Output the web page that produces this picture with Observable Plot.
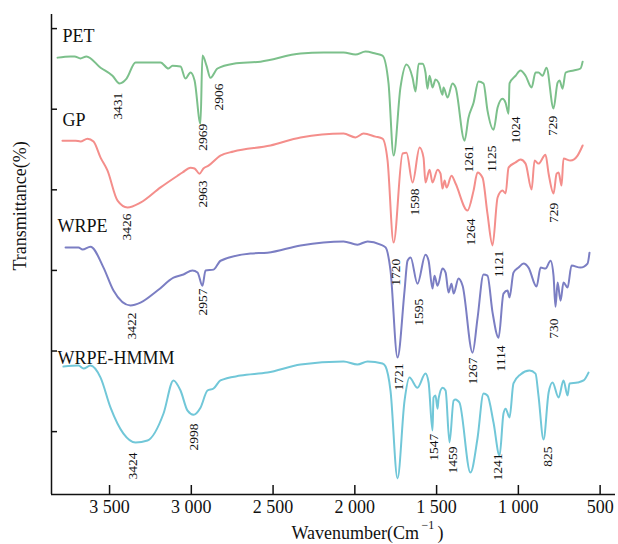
<!DOCTYPE html>
<html>
<head>
<meta charset="utf-8">
<script src="https://cdn.jsdelivr.net/npm/d3@7"></script>
<script src="https://cdn.jsdelivr.net/npm/@observablehq/plot@0.6"></script>
<style>
  html, body { margin: 0; padding: 0; background: #fff; }
  #chart svg { display: block; }
</style>
</head>
<body>
<div id="chart"></div>
<script>
// ---- data (wavenumber cm^-1, transmittance, arbitrary offset units) ----
const xTicks = [3500, 3000, 2500, 2000, 1500, 1000, 500];
const yTicks = [20, 40, 60, 80, 100, 120];

const PET = [[3818,112.8],[3739,113.1],[3714,113.1],[3678,112.6],[3641,113.1],[3555,110.3],[3482,108.3],[3439,106.4],[3396,107.6],[3341,111.6],[3250,111.6],[3188,111.6],[3140,110.1],[3115,110.8],[3066,110.6],[3036,107.6],[3005,109.1],[2980,107.1],[2944,96.4],[2932,113.3],[2907,110.8],[2883,107.8],[2840,110.1],[2742,111.3],[2577,111.8],[2332,113.8],[2191,114.05],[2069,114.05],[1996,113.55],[1935,114.3],[1874,113.8],[1831,113.3],[1794,106.4],[1763,88.5],[1721,105.4],[1684,111.1],[1647,107.8],[1629,104.4],[1610,111.3],[1586,111.3],[1568,109.1],[1556,105.1],[1543,108.3],[1525,105.4],[1507,107.35],[1488,106.6],[1464,103.6],[1458,105.4],[1433,102.9],[1403,106.4],[1384,105.4],[1329,92.2],[1305,97.9],[1274,101.6],[1244,106.9],[1213,106.4],[1189,99.7],[1152,94.9],[1127,100.4],[1097,102.6],[1078,101.6],[1060,98.9],[1054,106.4],[1017,108.3],[987,109.6],[956,108.3],[919,105.4],[895,109.1],[877,109.1],[852,108.3],[828,110.3],[785,100.2],[760,106.6],[748,107.1],[730,105.1],[711,109.1],[662,109.6],[620,110.1],[607,111.8]];

const GP = [[3788,92.2],[3708,92.2],[3678,92.0],[3635,92.7],[3598,92.0],[3555,88.0],[3513,84.8],[3451,77.3],[3390,75.6],[3311,76.8],[3188,80.6],[3084,83.5],[3054,84.3],[3005,85.5],[2980,85.3],[2950,84.0],[2926,85.3],[2895,86.0],[2822,88.5],[2742,89.5],[2516,91.0],[2332,93.0],[2069,93.95],[1996,93.0],[1947,93.95],[1874,93.2],[1831,92.7],[1800,87.3],[1763,66.9],[1708,89.0],[1684,89.2],[1647,81.8],[1604,90.5],[1580,88.0],[1568,81.8],[1543,85.0],[1525,81.8],[1494,85.0],[1476,84.0],[1464,80.3],[1451,82.3],[1439,80.55],[1409,83.5],[1384,81.55],[1311,74.85],[1274,79.8],[1250,84.3],[1219,83.0],[1189,74.1],[1158,66.2],[1127,78.1],[1097,79.8],[1078,79.1],[1060,85.5],[1017,86.8],[987,87.5],[956,86.5],[919,80.05],[901,87.3],[877,86.5],[834,88.7],[815,84.0],[785,79.1],[766,84.0],[754,84.3],[736,81.05],[724,87.75],[681,87.25],[638,88.5],[607,91.0]];

const WRPE = [[3769,65.7],[3690,65.7],[3665,65.2],[3617,65.9],[3537,60.7],[3476,55.0],[3372,51.3],[3311,52.0],[3207,55.0],[3109,58.2],[3048,59.0],[2993,60.0],[2962,59.5],[2932,56.2],[2913,60.0],[2864,60.2],[2821,62.4],[2638,64.2],[2534,64.4],[2332,66.2],[2069,67.2],[1984,66.4],[1922,67.2],[1843,66.4],[1812,65.7],[1782,60.0],[1739,38.4],[1696,55.0],[1678,62.4],[1659,63.2],[1617,56.7],[1568,63.9],[1549,62.4],[1525,55.5],[1513,58.7],[1494,56.2],[1464,60.45],[1445,59.45],[1427,54.5],[1409,56.7],[1396,54.25],[1366,58.0],[1341,56.2],[1280,39.6],[1250,48.05],[1213,59.0],[1189,58.7],[1158,49.6],[1121,43.3],[1091,54.25],[1066,55.0],[1054,53.3],[1030,59.45],[999,60.7],[968,61.7],[938,60.7],[889,56.0],[864,60.7],[834,60.45],[803,62.4],[785,58.7],[773,51.0],[760,57.0],[742,52.5],[724,57.0],[699,55.75],[675,61.2],[620,60.7],[577,61.7],[565,64.4]];

const HMMM = [[3782,36.15],[3690,36.4],[3659,35.65],[3617,36.4],[3555,33.4],[3494,25.95],[3415,19.5],[3341,17.3],[3268,17.8],[3170,24.5],[3109,32.7],[3066,30.2],[3023,25.2],[2987,24.2],[2944,25.95],[2901,30.2],[2864,30.7],[2822,32.7],[2699,33.9],[2534,34.65],[2332,36.65],[2069,37.4],[1984,36.65],[1922,37.4],[1831,36.9],[1812,36.15],[1782,30.2],[1739,8.4],[1696,27.7],[1666,33.4],[1617,30.9],[1568,34.4],[1549,32.2],[1525,20.3],[1519,28.45],[1507,28.95],[1494,25.7],[1488,28.2],[1464,30.9],[1445,30.2],[1421,17.3],[1396,27.7],[1384,27.95],[1372,27.7],[1360,27.2],[1293,9.85],[1250,18.3],[1213,29.45],[1189,28.95],[1152,22.25],[1115,14.05],[1091,24.5],[1078,25.7],[1054,23.5],[1030,31.95],[987,34.2],[932,35.15],[895,34.4],[877,28.95],[846,18.05],[815,29.7],[791,32.2],[754,28.45],[724,32.7],[699,28.95],[687,31.95],[638,32.2],[601,32.7],[571,34.65]];

// peak annotations: [label, wavenumber position, transmittance of label top]
const petPeaks  = [["3431",3451,104.1],["2969",2932,96.4],["2906",2834,106.4],["1261",1305,91.0],["1125",1164,91.0],["1024",1017,98.2],["729",791,98.4]];
const gpPeaks   = [["3426",3396,74.1],["2963",2932,82.3],["1598",1635,80.3],["1264",1292,72.9],["1121",1121,64.9],["729",785,76.8]];
const wrpePeaks = [["1720",1751,62.9],["3422",3366,49.55],["2957",2932,55.5],["1595",1610,53.0],["1267",1280,38.4],["1114",1109,41.35],["730",785,48.05]];
const hmmmPeaks = [["1721",1733,36.9],["3424",3360,14.8],["2998",2987,22.0],["1547",1519,19.5],["1459",1403,16.3],["1241",1127,14.6],["825",821,16.3]];

const seriesNames  = ["PET", "GP", "WRPE", "WRPE-HMMM"];
const seriesLabelW = [3788, 3788, 3818, 3818];
const seriesLabelT = [116.8, 95.9, 69.6, 36.9];
const seriesColors = ["#7cc08b", "#f48e8b", "#7b7ec3", "#71c7d8"];

// ---- build tables ----
const seriesData = [PET, GP, WRPE, HMMM];
const lines = seriesData.map(arr => arr.map(([w, t]) => ({w, t})));
const peaks = [petPeaks, gpPeaks, wrpePeaks, hmmmPeaks].flat().map(([label, w, t]) => ({label, w, t}));
const sLabels = seriesNames.map((name, i) => ({name, w: seriesLabelW[i], t: seriesLabelT[i]}));

const xDomain = [3855, 406];
const yDomain = [4.4, 123.5];
const fmt = v => d3.format(",")(v).replace(/,/g, " ");
const serif = "'Liberation Serif', 'Times New Roman', serif";

const chart = Plot.plot({
  width: 618,
  height: 544,
  marginLeft: 51,
  marginRight: 3,
  marginTop: 14,
  marginBottom: 50,
  style: {fontFamily: serif, background: "#fff", color: "#111", overflow: "visible"},
  x: {domain: xDomain, label: null},
  y: {domain: yDomain, label: null},
  marks: [
    ...lines.map((d, i) => Plot.line(d, {x: "w", y: "t", stroke: seriesColors[i], strokeWidth: 2, curve: "monotone-x"})),
    Plot.text(peaks, {x: "w", y: "t", text: "label", rotate: -90, textAnchor: "end", fontSize: 13.5, fill: "#111"}),
    Plot.text(sLabels, {x: "w", y: "t", text: "name", textAnchor: "start", lineAnchor: "bottom", fontSize: 18, fill: "#111"}),
    Plot.ruleX([xDomain[0]], {stroke: "#111", strokeWidth: 1.5}),
    Plot.ruleY([yDomain[0]], {stroke: "#111", strokeWidth: 1.5}),
    Plot.axisX({ticks: xTicks, tickFormat: fmt, tickSize: -9, tickPadding: 15, fontSize: 18, stroke: "#111", strokeWidth: 1.5, label: null}),
    Plot.axisY({ticks: yTicks, tickFormat: () => "", tickSize: -6, stroke: "#111", strokeWidth: 1.5, label: null}),
    Plot.text(["Transmittance(%)"], {frameAnchor: "left", dx: -31, dy: 16, rotate: -90, fontSize: 18, fill: "#111"}),
    Plot.text(["Wavenumber(Cm"], {frameAnchor: "bottom", dx: -42, dy: 44, textAnchor: "start", lineAnchor: "bottom", fontSize: 18, fill: "#111"}),
    Plot.text(["\u22121"], {frameAnchor: "bottom", dx: 88, dy: 34, textAnchor: "start", lineAnchor: "bottom", fontSize: 12, fill: "#111"}),
    Plot.text([")"], {frameAnchor: "bottom", dx: 104, dy: 44, textAnchor: "start", lineAnchor: "bottom", fontSize: 18, fill: "#111"})
  ]
});
document.getElementById("chart").appendChild(chart);
</script>
</body>
</html>
